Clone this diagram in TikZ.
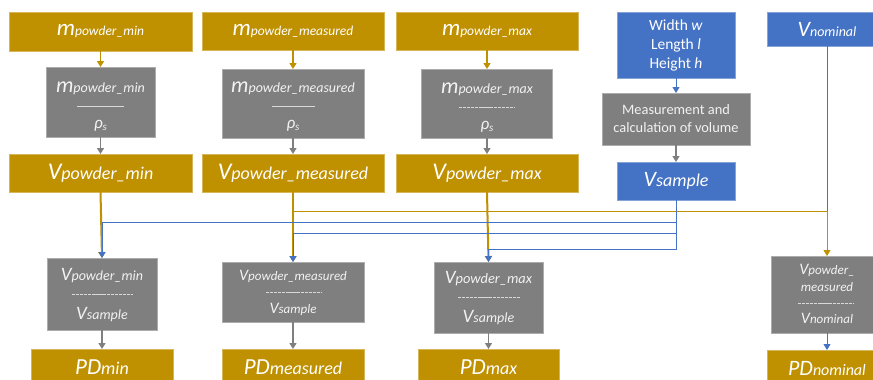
\documentclass[tikz,border=0pt]{standalone}
\usepackage{fontspec}
\setmainfont{Carlito}
\usetikzlibrary{arrows.meta,calc}
\definecolor{goldc}{HTML}{BF9000}
\definecolor{bluec}{HTML}{4472C4}
\definecolor{grayc}{HTML}{7F7F7F}
\definecolor{txtgray}{HTML}{F2F2F2}
\definecolor{fracc}{HTML}{D9D9D9}
\newcommand\fs[1]{\fontsize{#1}{#1}\selectfont}
\newcommand\msym[4]{{\fs{#1}\itshape #2}{\fs{#3}\itshape #4}}
\newcommand\rhos{{\fs{17}\itshape ρ}{\fs{11}\itshape\raisebox{-2pt}{s}}}
\tikzset{
  box/.style={inner sep=0pt, outer sep=0pt, line width=0.6pt},
  goldbox/.style={box, fill=goldc, draw=goldc!65!white, text=white},
  bluebox/.style={box, fill=bluec, draw=bluec!65!white, text=white},
  graybox/.style={box, fill=grayc, draw=grayc!65!white, text=txtgray},
  pdbox/.style={goldbox, minimum height=32pt, text height=18pt, text depth=0pt},
  txt/.style={inner sep=0pt, text=txtgray},
  tip/.style={-{Triangle[width=7pt,length=6pt]}},
  goldarr/.style={tip, draw=goldc, line width=1.4pt},
  grayarr/.style={tip, draw=grayc, line width=1.4pt},
  bluearr/.style={tip, draw=bluec, line width=1pt},
  goldthick/.style={tip, draw=goldc, line width=2pt},
  goldthin/.style={tip, draw=goldc, line width=1pt},
  blueline/.style={draw=bluec, line width=1pt},
  fracsolid/.style={draw=fracc, line width=0.7pt},
  fracdash/.style={draw=fracc, line width=0.6pt, dash pattern=on 3.2pt off 0.7pt},
}
\begin{document}
\begin{tikzpicture}[x=1pt,y=-1pt]
\path[use as bounding box, clip] (0,0) rectangle (873,380);
\fill[white] (0,0) rectangle (873,380);

% top row
\node[goldbox, minimum width=183pt, minimum height=39pt] (mmin) at (100.5,31.5) {\msym{23}{m}{13.5}{powder\_min}};
\node[goldbox, minimum width=182pt, minimum height=38pt] (mmeas) at (293,31) {\msym{23}{m}{13.5}{powder\_measured}};
\node[goldbox, minimum width=182pt, minimum height=38pt] (mmax) at (487,31) {\msym{23}{m}{13.5}{powder\_max}};
\node[bluebox, minimum width=118pt, minimum height=66pt, align=center, font=\fontsize{15.5}{19}\selectfont] (dims) at (676,45) {Width \textit{w}\\Length \textit{l}\\Height \textit{h}};
\node[bluebox, minimum width=120pt, minimum height=34pt] (vnomtop) at (827,29) {\msym{22}{V}{14}{nominal}};

% row 2
\node[graybox, minimum width=109pt, minimum height=70pt] (gmin) at (100.5,102) {};
\node[txt] (gmina) at (100.5,88) {\msym{22}{m}{14}{powder\_min}};
\draw[fracsolid] (77,106) -- (124,106);
\node[txt] (gminb) at (100.5,126) {\rhos};

\node[graybox, minimum width=142pt, minimum height=69pt] (gmeas) at (293,103.5) {};
\node[txt] (gmeasa) at (293,88) {\msym{22}{m}{14}{powder\_measured}};
\draw[fracsolid] (272,106) -- (315,106);
\node[txt] (gmeasb) at (293,126) {\rhos};

\node[graybox, minimum width=131pt, minimum height=69pt] (gmax) at (487,103.5) {};
\node[txt] (gmaxa) at (487,89) {\msym{22}{m}{14}{powder\_max}};
\draw[fracdash] (459,107) -- (515,107);
\node[txt] (gmaxb) at (487,127) {\rhos};

\node[graybox, minimum width=148pt, minimum height=52pt, align=center, font=\fontsize{14.4}{18}\selectfont] (meas) at (676,119) {Measurement and\\calculation of volume};

% row 3
\node[goldbox, minimum width=183pt, minimum height=38pt] (Vpmin) at (100.5,173) {\msym{24}{V}{18}{powder\_min}};
\node[goldbox, minimum width=182pt, minimum height=38pt] (Vpmeas) at (293,173) {\msym{24}{V}{18}{powder\_measured}};
\node[goldbox, minimum width=182pt, minimum height=38pt] (Vpmax) at (487,173) {\msym{24}{V}{18}{powder\_max}};
\node[bluebox, minimum width=118pt, minimum height=38pt] (vsamp) at (676,181) {\msym{22}{V}{18}{sample}};

% row 4
\node[graybox, minimum width=110pt, minimum height=72pt] (vmin) at (102,294) {};
\node[txt] (vmina) at (102,276) {\msym{19}{V}{14}{powder\_min}};
\draw[fracdash] (72,294) -- (133,294);
\node[txt] (vminb) at (102,315) {\msym{19}{V}{14}{sample}};

\node[graybox, minimum width=142pt, minimum height=60pt] (vmeas) at (293,292) {};
\node[txt] (vmeasa) at (293,276) {\msym{16}{V}{13}{powder\_measured}};
\draw[fracdash] (266,292) -- (321,292);
\node[txt] (vmeasb) at (293,309) {\msym{16}{V}{13}{sample}};

\node[graybox, minimum width=109pt, minimum height=71pt] (vmax) at (488.5,297.5) {};
\node[txt] (vmaxa) at (488.5,279) {\msym{19}{V}{14.4}{powder\_max}};
\draw[fracdash] (458,297) -- (520,297);
\node[txt] (vmaxb) at (488.5,318) {\msym{19}{V}{14}{sample}};

\node[graybox, minimum width=112pt, minimum height=77pt] (vnom) at (827,294.5) {};
\node[txt] (vnoma) at (827,270) {\msym{16}{V}{13}{powder\_}};
\node[txt] (vnoma2) at (827,287) {\fs{13}\itshape measured};
\draw[fracdash] (798,303) -- (854,303);
\node[txt] (vnomb) at (827,318) {\msym{16}{V}{13}{nominal}};

% row 5
\node[pdbox, minimum width=142pt] (pdmin) at (102,365) {\msym{23}{PD}{18}{min}};
\node[pdbox, minimum width=142pt] (pdmeas) at (293,365) {\msym{23}{PD}{18}{measured}};
\node[pdbox, minimum width=141pt] (pdmax) at (488.5,365) {\msym{23}{PD}{18}{max}};
\node[pdbox, minimum width=120pt] (pdnom) at (827,366) {\msym{22}{PD}{16}{nominal}};

% junction rows
\coordinate (ly1) at (0,211);
\coordinate (ly2) at (0,222);
\coordinate (ly3) at (0,233);
\coordinate (ly4) at (0,249);

% arrows top
\draw[goldarr] (mmin.south) -- (mmin.south |- gmin.north);
\draw[goldarr] (mmeas.south) -- (mmeas.south |- gmeas.north);
\draw[goldarr] (mmax.south) -- (mmax.south |- gmax.north);
\draw[grayarr] (gmin.south) -- (gmin.south |- Vpmin.north);
\draw[grayarr] (gmeas.south) -- (gmeas.south |- Vpmeas.north);
\draw[grayarr] (gmax.south) -- (gmax.south |- Vpmax.north);
\draw[bluearr] (dims.south) -- (meas.north);
\draw[grayarr] (meas.south) -- (vsamp.north);

% middle connectors
\draw[goldthick] (Vpmin.south) -- (vmin.north);
\draw[goldthick] (Vpmeas.south) -- (vmeas.north);
\draw[goldthick] (Vpmax.south) -- (vmax.north);
\draw[blueline] (vnomtop.south) -- (vnomtop.south |- ly1);
\draw[goldthin] (Vpmeas.south |- ly1) -| (vnom.north);
\draw[bluearr] (vsamp.south) |- (vmin.north |- ly2) -- (vmin.north);
\draw[bluearr] (vsamp.south) |- (vmeas.north |- ly3) -- (vmeas.north);
\draw[bluearr] (vsamp.south) |- (vmax.north |- ly4) -- (vmax.north);

% bottom arrows
\draw[grayarr] (vmin.south) -- (pdmin.north);
\draw[grayarr] (vmeas.south) -- (pdmeas.north);
\draw[grayarr] (vmax.south) -- (pdmax.north);
\draw[bluearr] (vnom.south) -- (pdnom.north);
\end{tikzpicture}
\end{document}
